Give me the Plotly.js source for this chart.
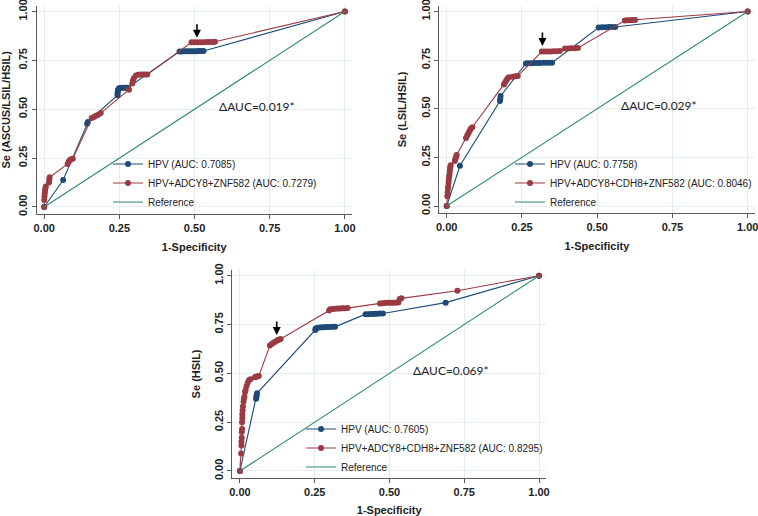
<!DOCTYPE html>
<html>
<head>
<meta charset="utf-8">
<script src="https://cdn.plot.ly/plotly-3.0.1.min.js"></script>
<style>
html,body{margin:0;padding:0;background:#fff;}
#chart{width:758px;height:516px;}
</style>
</head>
<body>
<div id="chart"></div>
<script>
// ---------- Panel 1: ASCUS/LSIL/HSIL ----------
const p1_hpv_x = [0, 0.063, 0.143, 0.145, 0.244, 0.244, 0.245, 0.246, 0.248, 0.252, 0.258, 0.265, 0.272, 0.278, 0.45, 0.458, 0.466, 0.474, 0.482, 0.49, 0.498, 0.506, 0.514, 0.522, 0.53, 1];
const p1_hpv_y = [0, 0.138, 0.425, 0.435, 0.572, 0.582, 0.592, 0.6, 0.606, 0.608, 0.61, 0.61, 0.61, 0.61, 0.795, 0.795, 0.796, 0.796, 0.796, 0.797, 0.797, 0.797, 0.798, 0.798, 0.798, 1];
const p1_mk_x = [0, 0, 0.001, 0.002, 0.003, 0.004, 0.005, 0.016, 0.017, 0.018, 0.078, 0.082, 0.086, 0.09, 0.095, 0.158, 0.165, 0.172, 0.18, 0.188, 0.282, 0.293, 0.295, 0.298, 0.305, 0.312, 0.32, 0.328, 0.336, 0.343, 0.49, 0.5, 0.51, 0.52, 0.53, 0.54, 0.55, 0.56, 0.568, 1];
const p1_mk_y = [0, 0.035, 0.055, 0.07, 0.085, 0.095, 0.105, 0.125, 0.14, 0.152, 0.22, 0.232, 0.24, 0.244, 0.247, 0.455, 0.46, 0.466, 0.472, 0.48, 0.6, 0.632, 0.645, 0.658, 0.672, 0.676, 0.677, 0.677, 0.678, 0.678, 0.842, 0.842, 0.843, 0.843, 0.843, 0.844, 0.844, 0.844, 0.845, 1];
const p1_names = ["HPV (AUC: 0.7085)", "HPV+ADCY8+ZNF582 (AUC: 0.7279)", "Reference"];
const p1_ytitle = "Se (ASCUS/LSIL/HSIL)";
const p1_delta = "ΔAUC=0.019*";
const p1_arrow = [0.508, 0.866];

// ---------- Panel 2: LSIL/HSIL ----------
const p2_hpv_x = [0, 0.044, 0.177, 0.178, 0.179, 0.263, 0.27, 0.28, 0.29, 0.3, 0.31, 0.32, 0.33, 0.34, 0.35, 0.505, 0.516, 0.527, 0.538, 0.549, 0.56, 1];
const p2_hpv_y = [0, 0.207, 0.54, 0.552, 0.565, 0.733, 0.734, 0.734, 0.735, 0.735, 0.735, 0.736, 0.736, 0.736, 0.737, 0.918, 0.919, 0.919, 0.92, 0.92, 0.92, 1];
const p2_mk_x = [0, 0.002, 0.003, 0.004, 0.005, 0.006, 0.007, 0.008, 0.009, 0.01, 0.011, 0.012, 0.013, 0.027, 0.029, 0.031, 0.033, 0.064, 0.068, 0.072, 0.076, 0.08, 0.085, 0.19, 0.194, 0.198, 0.202, 0.207, 0.22, 0.228, 0.236, 0.316, 0.325, 0.335, 0.345, 0.355, 0.365, 0.376, 0.393, 0.403, 0.414, 0.425, 0.436, 0.592, 0.6, 0.608, 0.617, 0.626, 1];
const p2_mk_y = [0, 0.05, 0.07, 0.09, 0.1, 0.12, 0.135, 0.15, 0.16, 0.175, 0.19, 0.2, 0.21, 0.232, 0.243, 0.252, 0.262, 0.35, 0.362, 0.374, 0.386, 0.397, 0.405, 0.625, 0.635, 0.645, 0.655, 0.662, 0.665, 0.667, 0.668, 0.794, 0.795, 0.795, 0.795, 0.796, 0.796, 0.797, 0.81, 0.81, 0.811, 0.811, 0.812, 0.954, 0.955, 0.955, 0.956, 0.956, 1];
const p2_names = ["HPV (AUC: 0.7758)", "HPV+ADCY8+CDH8+ZNF582 (AUC: 0.8046)", "Reference"];
const p2_ytitle = "Se (LSIL/HSIL)";
const p2_delta = "ΔAUC=0.029*";
const p2_arrow = [0.318, 0.823];

// ---------- Panel 3: HSIL ----------
const p3_hpv_x = [0, 0.054, 0.055, 0.056, 0.057, 0.252, 0.253, 0.26, 0.268, 0.276, 0.284, 0.292, 0.3, 0.31, 0.318, 0.42, 0.428, 0.436, 0.444, 0.452, 0.46, 0.468, 0.478, 0.688, 1];
const p3_hpv_y = [0, 0.37, 0.38, 0.39, 0.398, 0.722, 0.73, 0.734, 0.735, 0.736, 0.736, 0.737, 0.737, 0.738, 0.738, 0.803, 0.803, 0.804, 0.804, 0.805, 0.805, 0.806, 0.806, 0.862, 1];
const p3_mk_x = [0, 0.004, 0.005, 0.005, 0.006, 0.006, 0.007, 0.007, 0.008, 0.008, 0.009, 0.01, 0.012, 0.013, 0.015, 0.017, 0.019, 0.022, 0.026, 0.03, 0.035, 0.05, 0.054, 0.058, 0.063, 0.1, 0.106, 0.112, 0.118, 0.124, 0.13, 0.136, 0.298, 0.302, 0.31, 0.318, 0.326, 0.334, 0.342, 0.35, 0.36, 0.468, 0.476, 0.484, 0.492, 0.5, 0.508, 0.516, 0.524, 0.53, 0.534, 0.54, 0.727, 1];
const p3_mk_y = [0, 0.09, 0.13, 0.15, 0.17, 0.2, 0.215, 0.25, 0.27, 0.29, 0.31, 0.33, 0.355, 0.37, 0.38, 0.405, 0.415, 0.435, 0.452, 0.465, 0.47, 0.48, 0.482, 0.484, 0.486, 0.642, 0.65, 0.656, 0.662, 0.668, 0.672, 0.676, 0.822, 0.828, 0.83, 0.831, 0.832, 0.832, 0.833, 0.833, 0.834, 0.858, 0.859, 0.86, 0.861, 0.861, 0.862, 0.862, 0.863, 0.863, 0.88, 0.884, 0.923, 1];
const p3_names = ["HPV (AUC: 0.7605)", "HPV+ADCY8+CDH8+ZNF582 (AUC: 0.8295)", "Reference"];
const p3_ytitle = "Se (HSIL)";
const p3_delta = "ΔAUC=0.069*";
const p3_arrow = [0.123, 0.696];

// reference diagonal
const ref_x = [0, 1];
const ref_y = [0, 1];

const tickVals = [0, 0.25, 0.5, 0.75, 1];
const tickText = ["0.00", "0.25", "0.50", "0.75", "1.00"];
const xTitle = "1-Specificity";

const BLUE = "#1f4a76", RED = "#9a3a43", GREEN = "#2f8a72";
const FONT = "Liberation Sans, Arial, sans-serif";

const panels = [
  {hx:p1_hpv_x, hy:p1_hpv_y, mx:p1_mk_x, my:p1_mk_y, names:p1_names, yt:p1_ytitle, d:p1_delta, ar:p1_arrow,
   xd:[0.0484,0.4641], yd:[0.5853,0.9891], leg:{x:108/758, y:1-183/516}},
  {hx:p2_hpv_x, hy:p2_hpv_y, mx:p2_mk_x, my:p2_mk_y, names:p2_names, yt:p2_ytitle, d:p2_delta, ar:p2_arrow,
   xd:[0.5794,0.9955], yd:[0.5872,0.9890], leg:{x:510/758, y:1-183/516}},
  {hx:p3_hpv_x, hy:p3_hpv_y, mx:p3_mk_x, my:p3_mk_y, names:p3_names, yt:p3_ytitle, d:p3_delta, ar:p3_arrow,
   xd:[0.3067,0.7202], yd:[0.0736,0.4771], leg:{x:301/758, y:1-448/516}}
];

const data = [];
const layout = {
  width:758, height:516,
  margin:{l:0,r:0,t:0,b:0},
  paper_bgcolor:"#ffffff", plot_bgcolor:"#ffffff",
  font:{family:FONT, size:10, color:"#222"},
  annotations:[]
};

panels.forEach((p, i) => {
  const n = i + 1;
  const xa = "x" + (n === 1 ? "" : n), ya = "y" + (n === 1 ? "" : n);
  const legName = "legend" + (n === 1 ? "" : n);
  data.push({x:p.hx, y:p.hy, xaxis:xa, yaxis:ya, type:"scatter", mode:"lines+markers", name:p.names[0],
    legend:legName, line:{color:BLUE, width:1.1}, marker:{color:BLUE, size:6}, cliponaxis:false});
  data.push({x:p.mx, y:p.my, xaxis:xa, yaxis:ya, type:"scatter", mode:"lines+markers", name:p.names[1],
    legend:legName, line:{color:RED, width:1.1}, marker:{color:RED, size:6}, cliponaxis:false});
  data.push({x:ref_x, y:ref_y, xaxis:xa, yaxis:ya, type:"scatter", mode:"lines", name:p.names[2],
    legend:legName, line:{color:GREEN, width:1.1}});

  const axCommon = {
    showline:true, linecolor:"#5a5a5a", linewidth:1,
    ticks:"outside", ticklen:4, tickcolor:"#5a5a5a", tickwidth:1,
    showgrid:true, gridcolor:"#e4eef1", gridwidth:1, zeroline:false,
    tickvals:tickVals, ticktext:tickText, ticklabeloverflow:"allow",
    tickfont:{family:FONT, size:11, color:"#222", weight:"bold"},
    fixedrange:true
  };
  layout["xaxis" + (n === 1 ? "" : n)] = Object.assign({}, axCommon, {
    domain:p.xd, range:[-0.025, 1.023], anchor:ya,
    title:{text:xTitle, font:{family:FONT, size:11, color:"#222", weight:"bold"}, standoff:10}
  });
  layout["yaxis" + (n === 1 ? "" : n)] = Object.assign({}, axCommon, {
    domain:p.yd, range:[-0.036, 1.03], anchor:xa, tickangle:-90,
    title:{text:p.yt, font:{family:FONT, size:11, color:"#222", weight:"bold"}, standoff:10}
  });
  layout[legName] = {
    x:p.leg.x, y:p.leg.y, xanchor:"left", yanchor:"middle",
    bgcolor:"rgba(255,255,255,0)", borderwidth:0,
    font:{family:FONT, size:10, color:"#222"}, tracegroupgap:0
  };
  layout.annotations.push({
    xref:xa, yref:ya, x:0.707, y:0.515, text:p.d, showarrow:false,
    font:{family:"Lato, Open Sans, sans-serif", size:12, color:"#222"}
  });
  layout.annotations.push({
    xref:xa, yref:ya, x:p.ar[0], y:p.ar[1], text:"", showarrow:true,
    ax:0, ay:-15, arrowhead:2, arrowsize:1, arrowwidth:1.6, arrowcolor:"#000"
  });
});

Plotly.newPlot("chart", data, layout, {displayModeBar:false, staticPlot:true});
</script>
</body>
</html>
